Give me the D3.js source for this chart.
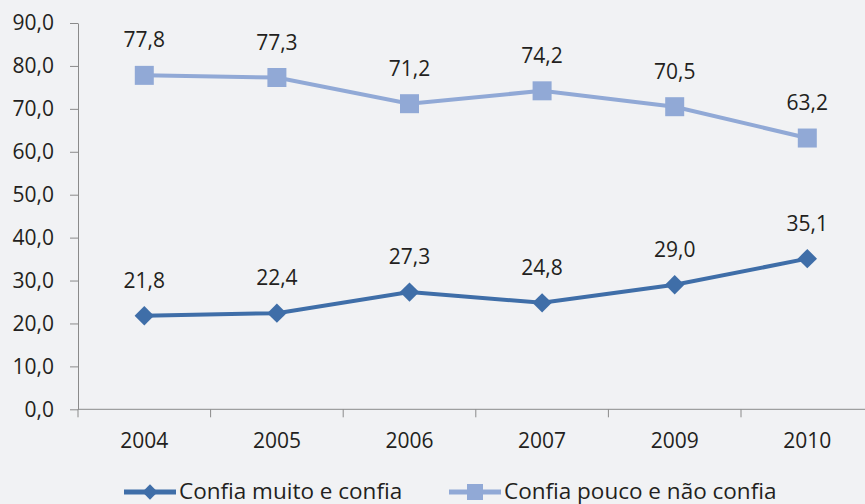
<!DOCTYPE html>
<html>
<head>
<meta charset="utf-8">
<script src="https://cdn.jsdelivr.net/npm/d3@7"></script>
<style>
  body { margin: 0; background: #f1f2f4; }
  svg text { font-family: "Open Sans", "Noto Sans", sans-serif; fill: #231f20; }
</style>
</head>
<body>
<svg id="chart"></svg>
<script>
const years = ["2004", "2005", "2006", "2007", "2009", "2010"];
const confiaMuito = [21.8, 22.4, 27.3, 24.8, 29.0, 35.1];
const confiaPouco = [77.8, 77.3, 71.2, 74.2, 70.5, 63.2];
const yTicks = [0, 10, 20, 30, 40, 50, 60, 70, 80, 90];
const seriesNames = ["Confia muito e confia", "Confia pouco e não confia"];

const width = 865, height = 504;
const margin = { left: 78, top: 23, bottom: 94 };
const fmt = v => v.toFixed(1).replace(".", ",");

const svg = d3.select("#chart").attr("width", width).attr("height", height);
svg.append("rect").attr("width", width).attr("height", height).attr("fill", "#f1f2f4");

const x = d3.scaleBand()
  .domain(years)
  .range([margin.left, margin.left + 132.6 * years.length]);

const y = d3.scaleLinear()
  .domain([0, 90])
  .range([height - margin.bottom - 0.7, margin.top]);

// y axis
const yAxis = svg.append("g")
  .attr("transform", `translate(${margin.left},0)`)
  .call(d3.axisLeft(y).tickValues(yTicks).tickFormat(fmt).tickSize(8).tickSizeOuter(0));
yAxis.select(".domain").attr("stroke", "#8a8a8a");
yAxis.selectAll(".tick line").attr("stroke", "#8a8a8a");
yAxis.selectAll("text").attr("x", -24).attr("font-size", "21px").attr("fill", "#231f20");

// x axis, ticks sit on the band edges
const x0 = y(0);
const xAxis = svg.append("g").attr("transform", `translate(0,${x0})`);
xAxis.append("line")
  .attr("x1", margin.left).attr("x2", width)
  .attr("stroke", "#8a8a8a");
xAxis.selectAll(".edge")
  .data(years)
  .enter().append("line")
  .attr("class", "edge")
  .attr("x1", d => x(d)).attr("x2", d => x(d))
  .attr("y1", 0).attr("y2", 8)
  .attr("stroke", "#8a8a8a");
xAxis.selectAll(".lbl")
  .data(years)
  .enter().append("text")
  .attr("class", "lbl")
  .attr("x", d => x(d) + x.bandwidth() / 2)
  .attr("y", 39)
  .attr("text-anchor", "middle")
  .attr("font-size", "21px")
  .text(d => d);

const cx = i => x(years[i]) + x.bandwidth() / 2;
const line = d3.line().x((d, i) => cx(i)).y(d => y(d));

const series = [
  { name: seriesNames[0], values: confiaMuito, color: "#3f6ea8", square: false },
  { name: seriesNames[1], values: confiaPouco, color: "#91a9d6", square: true }
];

series.forEach(s => {
  svg.append("path")
    .attr("d", line(s.values))
    .attr("fill", "none")
    .attr("stroke", s.color)
    .attr("stroke-width", 4);

  const sym = s.square
    ? d3.symbol().type(d3.symbolSquare).size(361)
    : d3.symbol().type(d3.symbolDiamond2).size(240);
  svg.selectAll(null)
    .data(s.values)
    .enter().append("path")
    .attr("d", sym)
    .attr("transform", (d, i) => `translate(${cx(i)},${y(d)})`)
    .attr("fill", s.color);

  svg.selectAll(null)
    .data(s.values)
    .enter().append("text")
    .attr("x", (d, i) => cx(i))
    .attr("y", d => y(d) - 28)
    .attr("text-anchor", "middle")
    .attr("font-size", "21px")
    .text(fmt);
});

// legend
const legend = [
  { s: series[0], x: 124 },
  { s: series[1], x: 449 }
];
legend.forEach(l => {
  const g = svg.append("g").attr("transform", `translate(${l.x},492)`);
  g.append("line").attr("x1", 0).attr("x2", 52)
    .attr("stroke", l.s.color).attr("stroke-width", 5);
  const sym = l.s.square
    ? d3.symbol().type(d3.symbolSquare).size(256)
    : d3.symbol().type(d3.symbolDiamond2).size(150);
  g.append("path").attr("d", sym).attr("transform", "translate(26,0)").attr("fill", l.s.color);
  g.append("text").attr("x", 55).attr("y", 6.5).attr("font-size", "22.5px").text(l.s.name);
});
</script>
</body>
</html>
